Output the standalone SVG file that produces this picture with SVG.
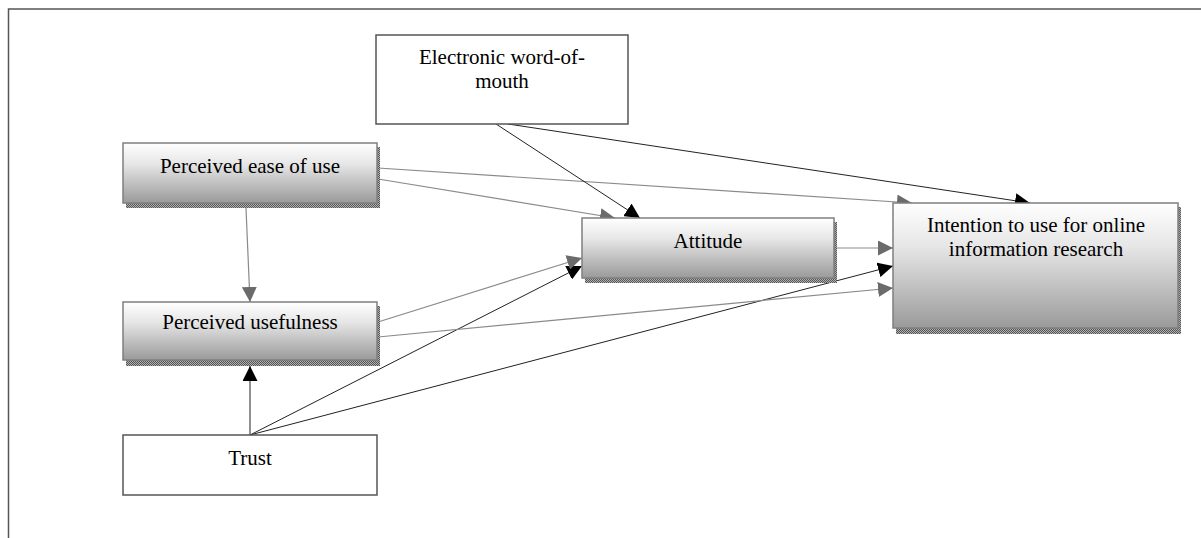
<svg xmlns="http://www.w3.org/2000/svg" width="1201" height="538" viewBox="0 0 1201 538">
<defs>
<linearGradient id="g" x1="0" y1="0" x2="0" y2="1">
<stop offset="0" stop-color="#ffffff"/>
<stop offset="0.35" stop-color="#e6e6e6"/>
<stop offset="1" stop-color="#9a9a9a"/>
</linearGradient>
<pattern id="dots" width="2" height="2" patternUnits="userSpaceOnUse">
<rect width="2" height="2" fill="#b0b0b0"/>
<rect width="1" height="1" fill="#555"/>
<rect x="1" y="1" width="1" height="1" fill="#555"/>
</pattern>
<marker id="ag" viewBox="0 0 10 10" refX="10" refY="5" markerWidth="15" markerHeight="15" markerUnits="userSpaceOnUse" orient="auto">
<path d="M0,0 L10,5 L0,10 Z" fill="#6b6b6b"/>
</marker>
<marker id="ab" viewBox="0 0 10 10" refX="10" refY="5" markerWidth="15" markerHeight="15" markerUnits="userSpaceOnUse" orient="auto">
<path d="M0,0 L10,5 L0,10 Z" fill="#000"/>
</marker>
</defs>
<style>
text{font-family:"Liberation Serif","Times New Roman",serif;font-size:21px;fill:#000;text-anchor:middle}
.box{fill:url(#g);stroke:#7f7f7f;stroke-width:1.5}
.plain{fill:#fff;stroke:#555;stroke-width:1.5}
.sh{fill:url(#dots)}
.cg{stroke:#8a8a8a;stroke-width:1.2;fill:none;marker-end:url(#ag)}
.cb{stroke:#222;stroke-width:1;fill:none;marker-end:url(#ab)}
</style>
<path d="M8.5,538 V9 H1201" fill="none" stroke="#555" stroke-width="1.5"/>
<g id="connectors">
<line class="cg" x1="246" y1="208" x2="250" y2="302"/>
<line class="cb" x1="250" y1="435" x2="250" y2="366"/>
<line class="cb" x1="250" y1="435" x2="582" y2="266"/>
<line class="cb" x1="250" y1="435" x2="893" y2="266"/>
<line class="cg" x1="378" y1="322" x2="582" y2="258"/>
<line class="cg" x1="378" y1="337" x2="893" y2="288"/>
<line class="cg" x1="378" y1="179" x2="615" y2="218"/>
<line class="cg" x1="378" y1="168" x2="912" y2="203"/>
<line class="cb" x1="496" y1="124" x2="640" y2="218"/>
<line class="cb" x1="508" y1="124" x2="1030" y2="203"/>
<line class="cg" x1="836" y1="248" x2="893" y2="248"/>
</g>
<g id="ewom">
<rect class="plain" x="376" y="35" width="252" height="89"/>
<text x="502" y="64">Electronic word-of-</text>
<text x="502" y="88">mouth</text>
</g>
<g id="peou">
<rect class="sh" x="126" y="147" width="254" height="61"/>
<rect class="box" x="123" y="143" width="254" height="60"/>
<text x="250" y="173">Perceived ease of use</text>
</g>
<g id="pu">
<rect class="sh" x="126" y="306" width="254" height="60"/>
<rect class="box" x="123" y="302" width="254" height="58"/>
<text x="250" y="329">Perceived usefulness</text>
</g>
<g id="trust">
<rect class="plain" x="123" y="435" width="254" height="60"/>
<text x="250" y="465">Trust</text>
</g>
<g id="attitude">
<rect class="sh" x="585" y="222" width="252" height="61"/>
<rect class="box" x="582" y="218" width="252" height="60"/>
<text x="708" y="248">Attitude</text>
</g>
<g id="intention">
<rect class="sh" x="896" y="207" width="285" height="127"/>
<rect class="box" x="893" y="203" width="285" height="125"/>
<text x="1036" y="232">Intention to use for online</text>
<text x="1036" y="256">information research</text>
</g>
</svg>
